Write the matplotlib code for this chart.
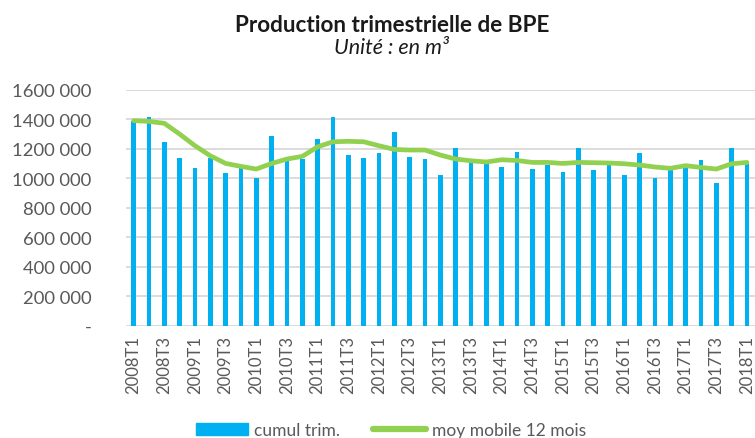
import matplotlib.pyplot as plt
from matplotlib.patches import Patch
from matplotlib.lines import Line2D

plt.rcParams['font.family'] = ['Lato', 'DejaVu Sans']

# quarters 2008T1 .. 2018T1
quarters = [f"{y}T{q}" for y in range(2008, 2019) for q in range(1, 5)][:41]

cumul_trim = [
    1390000, 1415000, 1243000, 1134000, 1071000, 1140000, 1033000, 1068000,
    1001000, 1284000, 1114000, 1130000, 1266000, 1415000, 1157000, 1134000,
    1168000, 1313000, 1146000, 1132000, 1019000, 1204000, 1107000, 1096000,
    1075000, 1180000, 1060000, 1090000, 1042000, 1204000, 1053000, 1090000,
    1024000, 1168000, 1001000, 1060000, 1075000, 1125000, 967000, 1204000,
    1095000,
]

moy_mobile = [
    1390000, 1385000, 1372000, 1299000, 1220000, 1152000, 1100000, 1080000,
    1062000, 1100000, 1130000, 1148000, 1213000, 1247000, 1250000, 1247000,
    1220000, 1195000, 1191000, 1191000, 1157000, 1130000, 1118000, 1110000,
    1125000, 1120000, 1107000, 1107000, 1100000, 1107000, 1105000, 1103000,
    1098000, 1089000, 1076000, 1067000, 1085000, 1073000, 1062000, 1098000,
    1107000,
]

ytick_vals = [0, 200000, 400000, 600000, 800000, 1000000, 1200000, 1400000, 1600000]
ytick_labels = ["-", "200 000", "400 000", "600 000", "800 000", "1000 000",
                "1200 000", "1400 000", "1600 000"]

blue = "#00B0F0"
green = "#92D050"
grey = "#595959"

fig = plt.figure(figsize=(7.55, 4.39), dpi=100)
ax = fig.add_axes([0.1669, 0.2558, 0.8326, 0.5376])

x = list(range(len(quarters)))
ax.bar(x, cumul_trim, width=0.3, color=blue, zorder=2)
ax.plot(x, moy_mobile, color=green, lw=3.4, zorder=3, solid_capstyle='round')

ax.set_xlim(-0.5, len(quarters) - 0.5)
ax.set_ylim(0, 1600000)
ax.set_yticks(ytick_vals)
ax.set_yticklabels(ytick_labels, fontsize=13.3, color=grey)
ax.set_xticks(x[::2])
ax.set_xticklabels(quarters[::2], rotation=90, fontsize=12, color=grey)
ax.tick_params(axis='y', length=0, pad=25)
ax.tick_params(axis='x', length=0, pad=7)
ax.grid(axis='y', color='#D9D9D9', lw=1.3, zorder=0)
for s in ax.spines.values():
    s.set_visible(False)

fig.text(392 / 755, 1 - 25 / 439, "Production trimestrielle de BPE",
         ha='center', va='center', fontsize=16.2, fontweight='bold', color='#1a1a1a')
fig.text(391 / 755, 1 - 48 / 439, "Unité : en m³",
         ha='center', va='center', fontsize=15.5, style='italic', color='#1a1a1a')

handles = [Patch(color=blue), Line2D([], [], color=green, lw=4.5, solid_capstyle='round')]
fig.legend(handles, ["cumul trim.", "moy mobile 12 mois"], loc='center',
           bbox_to_anchor=(391 / 755, 1 - 431 / 439), ncol=2, frameon=False,
           fontsize=12.5, labelcolor=grey, handlelength=3.0, columnspacing=1.9,
           handletextpad=0.35)

fig.savefig("out.png", dpi=100)
